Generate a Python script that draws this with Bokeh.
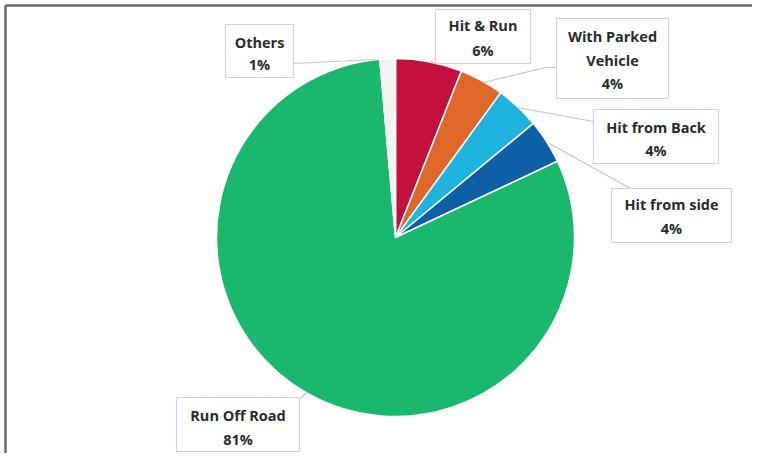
import math
from bokeh.plotting import figure
from bokeh.models import Range1d, ColumnDataSource
from bokeh.core.properties import value
from bokeh.embed import file_html
from bokeh.resources import INLINE

# ---- data ----
categories = ["Hit & Run", "With Parked Vehicle", "Hit from Back", "Hit from side", "Run Off Road", "Others"]
shares = [6, 4, 4, 4, 80.6, 1.4]
colors = ["#c4103f", "#e0672a", "#1fb4e0", "#0d5fa6", "#19b86d", "#f1f4f2"]
label_lines = [["Hit & Run"], ["With Parked", "Vehicle"], ["Hit from Back"], ["Hit from side"], ["Run Off Road"], ["Others"]]

W, H = 752, 453


def Y(ry):
    return H - ry


p = figure(width=W, height=H, output_backend="svg", toolbar_location=None,
           x_range=Range1d(0, W), y_range=Range1d(0, H),
           min_border=0, outline_line_color=None)
p.axis.visible = False
p.grid.visible = False
p.background_fill_color = "white"
p.border_fill_color = "white"

# outer frame (top / left dark edge)
p.line([5, W], [Y(5), Y(5)], line_color="#6a6a6a", line_width=2.5)
p.line([5, 5], [Y(5), Y(H)], line_color="#6a6a6a", line_width=2.5)

# ---- pie ----
cx, cy, r = 395, Y(237), 179
total = sum(shares)
starts, ends, acc = [], [], 0.0
for v in shares:
    starts.append(math.pi / 2 - acc / total * 2 * math.pi)
    acc += v
    ends.append(math.pi / 2 - acc / total * 2 * math.pi)
src = ColumnDataSource(dict(start=starts, end=ends, color=colors, cat=categories))
p.wedge(x=cx, y=cy, radius=r, start_angle="start", end_angle="end", direction="clock",
        fill_color="color", line_color="white", line_width=1.5, source=src)

# ---- leader lines ----
leaders = [
    ([430, 438], [61, 64]),
    ([483, 545, 556], [82, 67, 67]),
    ([517, 593], [107, 121]),
    ([549, 630], [143, 188]),
    ([300, 306], [398, 392]),
    ([293, 374], [63, 59]),
]
for xs, ys in leaders:
    p.line(xs, [Y(v) for v in ys], line_color="#c6c6c6", line_width=1.2)

# ---- label boxes ----
boxes = [  # left, right, top, bottom (reference px)
    (435, 530, 9, 63),
    (556, 668, 18, 98),
    (593, 718, 109, 163),
    (611, 731, 188, 242),
    (176, 299, 397, 451),
    (225, 293, 24, 77),
]
line_y = [[25, 50], [36, 60, 83], [127, 150], [204, 228], [415, 439], [42, 64]]

for (l, rgt, t, b), lines, share, ys in zip(boxes, label_lines, shares, line_y):
    p.quad(left=l, right=rgt, top=Y(t), bottom=Y(b), fill_color="white",
           line_color="#d4d4d4", line_width=1.2)
    texts = lines + [f"{round(share)}%"]
    xc = (l + rgt) / 2
    p.text(x=[xc] * len(texts), y=[Y(v) for v in ys], text=texts,
           text_align="center", text_baseline="middle",
           text_font=value("Open Sans"), text_font_style="bold",
           text_font_size="14.5px", text_color="#2b2b2b")

open("out.html", "w").write(file_html(p, INLINE))
